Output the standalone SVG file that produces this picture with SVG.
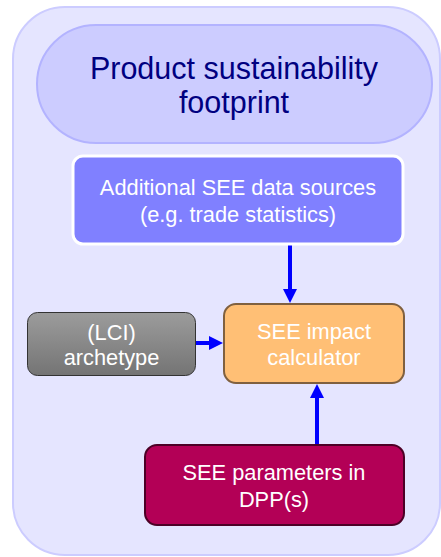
<svg xmlns="http://www.w3.org/2000/svg" width="441" height="557" viewBox="0 0 441 557">
  <defs>
    <linearGradient id="grayGrad" x1="0" y1="0" x2="0" y2="1">
      <stop offset="0" stop-color="#9c9c9c"/>
      <stop offset="1" stop-color="#747474"/>
    </linearGradient>
    <marker id="arrow" markerUnits="userSpaceOnUse" markerWidth="14" markerHeight="14" refX="1" refY="7" orient="auto">
      <path d="M0,0 L14,7 L0,14 z" fill="#0000ff"/>
    </marker>
    <style>
      text { font-family: "Liberation Sans", Arial, sans-serif; text-anchor: middle; }
      .title { font-size: 30.5px; fill: #000080; }
      .label { font-size: 21.8px; fill: #ffffff; }
      .conn { stroke: #0000ff; stroke-width: 4; fill: none; marker-end: url(#arrow); }
    </style>
  </defs>

  <g id="container">
    <rect x="13" y="7" width="427" height="548" rx="52" fill="#e5e5ff" stroke="#ccccff" stroke-width="2"/>
  </g>

  <g id="header">
    <rect x="37" y="25" width="395" height="118" rx="59" fill="#ccccff" stroke="#b3b3ff" stroke-width="2"/>
    <text class="title" x="234" y="79">Product sustainability</text>
    <text class="title" x="234" y="113">footprint</text>
  </g>

  <g id="connectors">
    <line class="conn" x1="290" y1="244" x2="290" y2="290"/>
    <line class="conn" x1="196" y1="343" x2="210" y2="343"/>
    <line class="conn" x1="317" y1="445" x2="317" y2="397"/>
  </g>

  <g id="additional-sources">
    <rect x="73" y="156" width="330" height="88" rx="10" fill="#8080ff" stroke="#ffffff" stroke-width="3"/>
    <text class="label" x="238" y="195">Additional SEE data sources</text>
    <text class="label" x="238" y="222">(e.g. trade statistics)</text>
  </g>

  <g id="lci-archetype">
    <rect x="27.5" y="312.5" width="168" height="63" rx="10" fill="url(#grayGrad)" stroke="#333333" stroke-width="1"/>
    <text class="label" x="111.5" y="340">(LCI)</text>
    <text class="label" x="111.5" y="365">archetype</text>
  </g>

  <g id="impact-calculator">
    <rect x="224" y="304" width="180" height="79" rx="12" fill="#ffbf75" stroke="#80603f" stroke-width="2"/>
    <text class="label" x="314" y="339">SEE impact</text>
    <text class="label" x="314" y="365">calculator</text>
  </g>

  <g id="dpp-parameters">
    <rect x="145" y="445" width="259" height="80" rx="12" fill="#b30056" stroke="#4d0026" stroke-width="2"/>
    <text class="label" x="274" y="480">SEE parameters in</text>
    <text class="label" x="274" y="507">DPP(s)</text>
  </g>
</svg>
